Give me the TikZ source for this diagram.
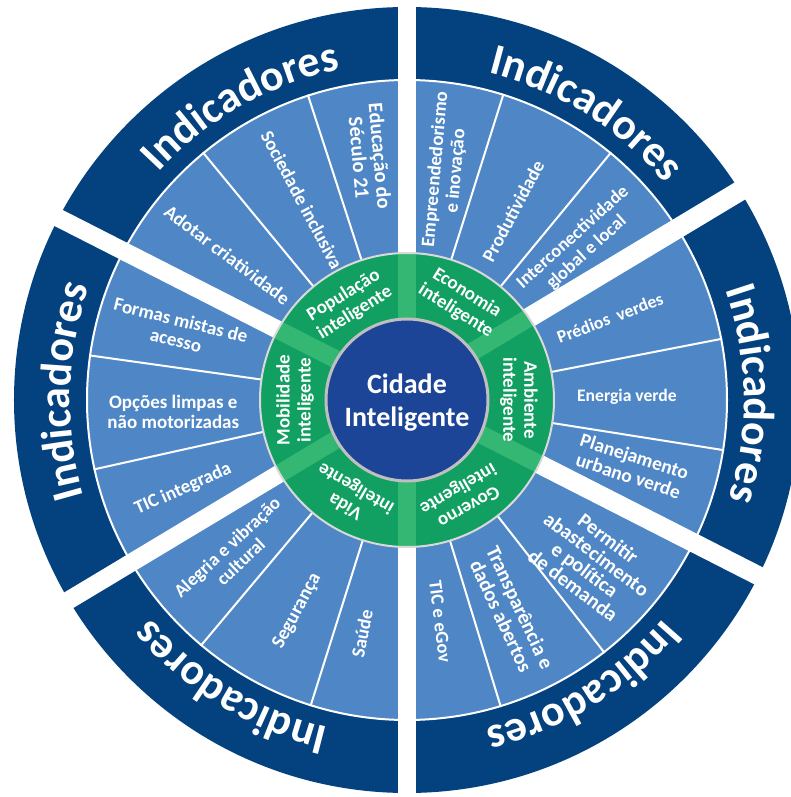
\documentclass[tikz,border=0pt]{standalone}
\usepackage{fontspec}
\setmainfont{Carlito}
\usetikzlibrary{decorations.text}
\definecolor{outerblue}{HTML}{03417F}
\definecolor{itemblue}{HTML}{4F87C6}
\definecolor{ringgreen}{HTML}{12A062}
\definecolor{bandgreen}{HTML}{34B773}
\definecolor{corefill}{HTML}{1C4598}
\definecolor{coreline}{HTML}{BFBFBF}
\definecolor{ringline}{HTML}{D9D9D9}
\newcommand{\fs}[2]{\fontsize{#1}{#2}\selectfont\bfseries}
\begin{document}
\begin{tikzpicture}[x=1pt,y=1pt,
  itemtxt/.style={text=white, font=\fs{19}{20.5}, align=center, inner sep=0pt},
  ringtxt/.style={text=white, font=\fs{19}{21}, align=center, inner sep=0pt},
  coretxt/.style={text=white, font=\fs{28}{33}, align=center, inner sep=0pt},
  divider/.style={white, line width=2pt},
  gapband/.style={white},
  greenband/.style={bandgreen}
]
\useasboundingbox (-407,-397) rectangle (384,400);
% outer and item rings
\fill[outerblue] (0,0) circle[radius=393];
\fill[itemblue] (0,0) circle[radius=320];
\draw[white, line width=2pt] (0,0) circle[radius=320];
\foreach \a in {108,129.5,72.5,50.5,11,-9,-52,-73,-107.5,-130,172,192.5}
  \draw[divider] (\a:146) -- (\a:321);
% white gaps between the six sectors (angle / offset / half width)
\foreach \a/\d/\w in {31/9/10,90/0/9,153/4.5/9,211/3/9,270/0/9,333/3.3/9.5}
  \fill[gapband, shift={(0,\d)}, rotate=\a] (100,-\w) rectangle (420,\w);
% green ring
\fill[ringgreen] (0,0) circle[radius=147];
\begin{scope}
  \clip (0,0) circle[radius=147];
  \foreach \a/\d/\w in {31/9/9,90/0/9,153/4.5/9,211/3/9,270/0/9,333/3.3/9}
    \fill[greenband, shift={(0,\d)}, rotate=\a] (0,-\w) rectangle (160,\w);
\end{scope}
\draw[ringline, line width=2pt] (0,0) circle[radius=147];
% core
\draw[coreline, line width=3pt, fill=corefill] (0,0) circle[radius=81];
\node[coretxt] (core) at (0,-3) {Cidade\\Inteligente};
% curved outer labels
\foreach \c in {119.5,58,1,-58.5,-121.5,178.5}{
  \path[decorate, decoration={text along path, text align=center, text color=white,
     text={|\fontsize{44}{44}\selectfont\bfseries|Indicadores}}]
     ({\c+25}:337) arc[start angle={\c+25}, end angle={\c-25}, radius=337];
}
% green ring labels
\node[ringtxt, rotate=32]   (g1) at (121:112) {População\\inteligente};
\node[ringtxt, rotate=-32]  (g2) at (61:112)  {Economia\\inteligente};
\node[ringtxt, rotate=-90]  (g3) at (0:112)   {Ambiente\\inteligente};
\node[ringtxt, rotate=-150] (g4) at (-60:112) {Governo\\inteligente};
\node[ringtxt, rotate=150]  (g5) at (-120:112){Vida\\inteligente};
\node[ringtxt, rotate=90]   (g6) at (180:112) {Mobilidade\\inteligente};
% items, top-left
\node[itemtxt, font=\fs{20.5}{21}, rotate=-85] (a1) at (98.7:246)  {Educação do\\Século 21};
\node[itemtxt, rotate=-62] (a2) at (117.7:226) {Sociedade inclusiva};
\node[itemtxt, rotate=-37] (a3) at (141.1:231) {Adotar criatividade};
% top-right
\node[itemtxt, rotate=85] (b1) at (80.4:233) {Empreendedorismo\\e inovação};
\node[itemtxt, rotate=62] (b2) at (60.7:217) {Produtividade};
\node[itemtxt, font=\fs{18.5}{20.5}, rotate=42] (b3) at (41.9:232) {Interconectividade\\global e local};
% right
\node[itemtxt, font=\fs{17.8}{20}, rotate=21]  (c1) at (22:219)    {Prédios\ \ verdes};
\node[itemtxt, font=\fs{17.6}{20}, rotate=0]   (c2) at (0.8:220)   {Energia verde};
\node[itemtxt, font=\fs{19.5}{20.5}, rotate=-18] (c3) at (-16.4:234) {Planejamento\\urbano verde};
% bottom-right
\node[itemtxt, font=\fs{20.5}{19.5}, rotate=-37] (d1) at (-41.4:245) {Permitir\\abastecimento\\e política\\de demanda};
\node[itemtxt, font=\fs{20.5}{21}, rotate=-65] (d2) at (-63.9:236) {Transparência e\\dados abertos};
\node[itemtxt, font=\fs{18.6}{20}, rotate=-83]  (d3) at (-81.5:224) {TIC e eGov};
% bottom-left
\node[itemtxt, rotate=79] (e1) at (-100.9:238) {Saúde};
\node[itemtxt, font=\fs{19.5}{20}, rotate=62] (e2) at (-117.5:238) {Segurança};
\node[itemtxt, font=\fs{18.6}{20}, rotate=43] (e3) at (-138.3:232) {Alegria e vibração\\cultural};
% left
\node[itemtxt, rotate=-14] (f1) at (163:239)   {Formas mistas de\\acesso};
\node[itemtxt, rotate=0]   (f2) at (182.9:234) {Opções limpas e\\não motorizadas};
\node[itemtxt, rotate=24]   (f3) at (201.7:241) {TIC integrada};
\end{tikzpicture}
\end{document}
